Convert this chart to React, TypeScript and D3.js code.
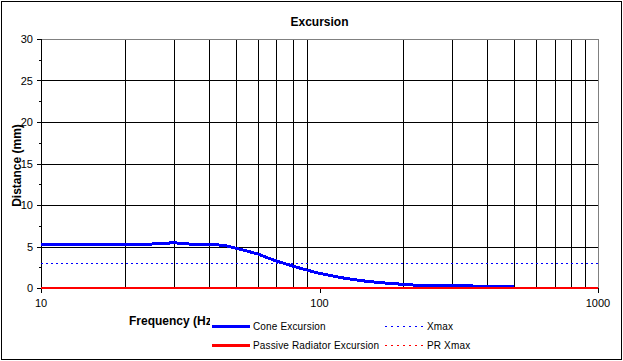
import React from 'react';
import * as d3 from 'd3';

// values
const freqs = [10, 17, 20, 25, 30, 34, 40, 46, 50, 55, 60, 65, 70, 75, 80, 85, 90, 95, 100, 110, 120, 135, 150, 175, 200, 230, 300, 400, 500];
const coneExcursion = [5.2, 5.3, 5.3, 5.3, 5.45, 5.3, 5.3, 5.1, 4.8, 4.45, 4.1, 3.65, 3.25, 2.95, 2.65, 2.4, 2.17, 1.95, 1.77, 1.5, 1.24, 0.98, 0.78, 0.58, 0.44, 0.3, 0.27, 0.22, 0.2];
const prFreqs = [10, 1000];
const prExcursion = [0, 0];
const xmax = 3;
const prXmax = 0;
const yTicks = [0, 5, 10, 15, 20, 25, 30];
const xTickLabels = [10, 100, 1000];
const gridFreqs = [20, 30, 40, 50, 60, 70, 80, 90, 200, 300, 400, 500, 600, 700, 800, 900];

const W = 623;
const H = 361;
const left = 41;
const right = 598;
const top = 39;
const bottom = 288;
const font = '"Liberation Sans", Arial, sans-serif';

const App = () => {
  const x = d3.scaleLog().domain([10, 1000]).range([left, right]);
  const y = d3.scaleLinear().domain([0, 30]).range([bottom, top]);

  const line = d3
    .line<[number, number]>()
    .x((d) => x(d[0]))
    .y((d) => y(d[1]));

  const cone = freqs.map((f, i) => [f, coneExcursion[i]] as [number, number]);
  const pr = prFreqs.map((f, i) => [f, prExcursion[i]] as [number, number]);
  const minorTicks = d3.range(2.5, 30, 5);
  const yx = Math.round(y(xmax)) + 0.5;

  return (
    <svg width={W} height={H} style={{ display: 'block', position: 'absolute', left: 0, top: 0 }}>
      <rect x={0} y={0} width={W} height={H} fill="#fff" />
      <rect x={1.5} y={1.5} width={W - 3} height={H - 3} fill="none" stroke="#000" />
      <defs>
        <clipPath id="xlab">
          <rect x={100} y={300} width={110} height={40} />
        </clipPath>
      </defs>

      <text x={(left + right) / 2} y={26} textAnchor="middle" fontFamily={font} fontSize={12} fontWeight="bold">
        Excursion
      </text>

      {/* horizontal grid */}
      {yTicks.slice(1, -1).map((t) => (
        <line key={'h' + t} x1={left} x2={right} y1={Math.round(y(t)) + 0.5} y2={Math.round(y(t)) + 0.5} stroke="#000" />
      ))}
      {/* vertical grid */}
      {gridFreqs.map((f) => (
        <line key={'v' + f} x1={Math.round(x(f)) + 0.5} x2={Math.round(x(f)) + 0.5} y1={top} y2={bottom} stroke="#000" />
      ))}
      {/* plot border top/right */}
      <line x1={left} x2={right + 0.5} y1={top + 0.5} y2={top + 0.5} stroke="#808080" />
      <line x1={right + 0.5} x2={right + 0.5} y1={top} y2={bottom} stroke="#808080" />

      {/* axes */}
      <line x1={left + 0.5} x2={left + 0.5} y1={top} y2={bottom + 5} stroke="#000" />
      <line x1={left} x2={right + 1} y1={bottom + 0.5} y2={bottom + 0.5} stroke="#000" />
      {yTicks.map((t) => (
        <g key={'yt' + t}>
          <line x1={left - 4} x2={left} y1={Math.round(y(t)) + 0.5} y2={Math.round(y(t)) + 0.5} stroke="#000" />
          <text x={left - 8} y={y(t) + 4} textAnchor="end" fontFamily={font} fontSize={11}>
            {t}
          </text>
        </g>
      ))}
      {minorTicks.map((t) => (
        <line key={'ym' + t} x1={left - 2} x2={left} y1={Math.round(y(t)) + 0.5} y2={Math.round(y(t)) + 0.5} stroke="#000" />
      ))}
      {xTickLabels.map((t) => (
        <g key={'xt' + t}>
          <line x1={Math.round(x(t)) + 0.5} x2={Math.round(x(t)) + 0.5} y1={bottom} y2={bottom + 5} stroke="#000" />
          <text x={x(t)} y={307} textAnchor="middle" fontFamily={font} fontSize={11}>
            {t}
          </text>
        </g>
      ))}

      {/* series */}
      <line x1={x(10)} x2={x(1000)} y1={yx} y2={yx} stroke="#0000ff" strokeDasharray="2,3" />
      <path d={line([[10, prXmax], [1000, prXmax]]) ?? ''} fill="none" stroke="#ff0000" strokeDasharray="2,3" />
      <path d={line(cone) ?? ''} fill="none" stroke="#0000ff" strokeWidth={3} shapeRendering="crispEdges" />
      <path d={line(pr) ?? ''} fill="none" stroke="#ff0000" strokeWidth={2} shapeRendering="crispEdges" />

      <text transform={`translate(21,${(top + bottom) / 2 + 2}) rotate(-90)`} textAnchor="middle" fontFamily={font} fontSize={12} fontWeight="bold">
        Distance (mm)
      </text>
      <text x={129} y={325} fontFamily={font} fontSize={12} fontWeight="bold" clipPath="url(#xlab)">
        Frequency (Hz)
      </text>

      {/* legend */}
      <line x1={212} x2={250} y1={326.5} y2={326.5} stroke="#0000ff" strokeWidth={3} />
      <text x={253} y={330} fontFamily={font} fontSize={10} letterSpacing={0.15}>Cone Excursion</text>
      <line x1={385} x2={423} y1={326.5} y2={326.5} stroke="#0000ff" strokeDasharray="2,4" />
      <text x={427} y={330} fontFamily={font} fontSize={10} letterSpacing={0.15}>Xmax</text>
      <line x1={212} x2={250} y1={345.5} y2={345.5} stroke="#ff0000" strokeWidth={3} />
      <text x={253} y={349} fontFamily={font} fontSize={10} letterSpacing={0.15}>Passive Radiator Excursion</text>
      <line x1={385} x2={423} y1={345.5} y2={345.5} stroke="#ff0000" strokeDasharray="2,4" />
      <text x={427} y={349} fontFamily={font} fontSize={10} letterSpacing={0.15}>PR Xmax</text>
    </svg>
  );
};

export default App;
